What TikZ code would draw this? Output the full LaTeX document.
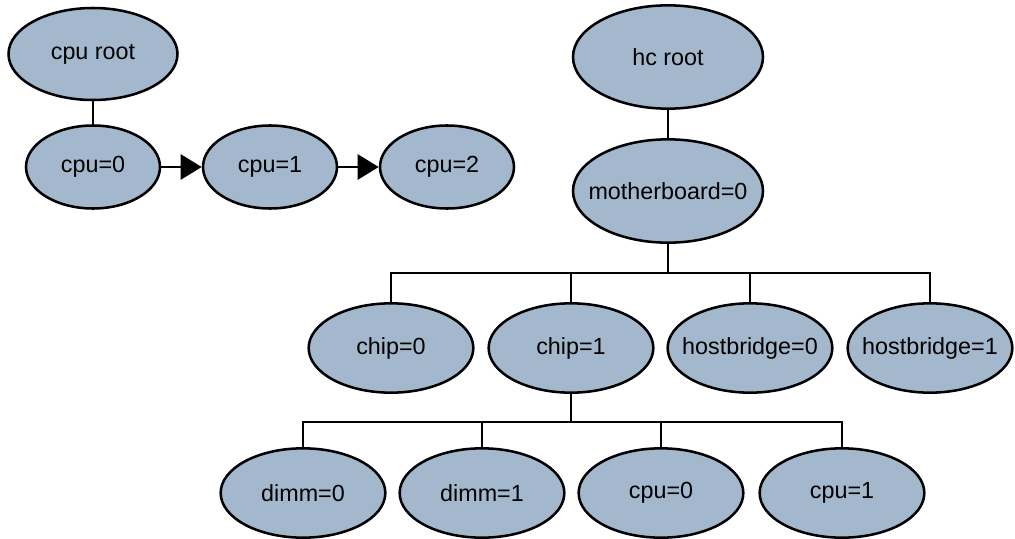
\documentclass[tikz,border=0pt]{standalone}
\usepackage{fontspec}
\setmainfont{Liberation Sans}
\usetikzlibrary{shapes.geometric, arrows.meta}
\definecolor{devblue}{HTML}{A3B8CC}
\tikzset{dev/.style={ellipse,draw,fill=devblue,line width=1.9pt,inner xsep=-30pt,inner ysep=0pt,
                     font=\fontsize{17.5}{20}\selectfont},
         small/.style={dev,minimum width=100.5pt,minimum height=62.25pt},
         big/.style={dev,minimum width=142.5pt,minimum height=77.5pt},
         mid/.style={dev,minimum width=123.5pt,minimum height=67pt},
         wire/.style={line width=1.9pt},
         next/.style={wire,-{Triangle[length=15.75pt,width=18.75pt]}},
        }

\begin{document}
\begin{tikzpicture}[x=0.75pt,y=-0.75pt]
        \useasboundingbox (0,0) rectangle (1015,539);

        \node[dev,minimum width=126.75pt,minimum height=69pt](cpuroot)at(93,54){cpu root};
        \node[small](cpu0)at(93,167){cpu=0};
        \node[small](cpu1)at(270,167){cpu=1};
        \node[small](cpu2)at(447,167){cpu=2};

        \node[big](hcroot)at(668,57){hc root};
        \node[big](mb)at(668,191){motherboard=0};

        \node[mid](chip0)at(391,348){chip=0};
        \node[mid](chip1)at(571,348){chip=1};
        \node[mid](hb0)at(750,348){hostbridge=0};
        \node[mid](hb1)at(930,348){hostbridge=1};

        \node[mid](dimm0)at(303,493){dimm=0};
        \node[mid](dimm1)at(482,493){dimm=1};
        \node[mid](ccpu0)at(661,493){cpu=0};
        \node[mid](ccpu1)at(842,493){cpu=1};

        \coordinate(busA)at(0,273);
        \coordinate(busB)at(0,422);

        \draw[wire](cpuroot.south)--(cpu0.north);
        \draw[next](cpu0.east)--(cpu1.west);
        \draw[next](cpu1.east)--(cpu2.west);

        \draw[wire](hcroot.south)--(mb.north);
        \draw[wire](mb.south)--(mb.south|-busA);
        \draw[wire](chip0.north)|-(hb1.north|-busA)--(hb1.north);
        \draw[wire](chip1.north)--(chip1.north|-busA);
        \draw[wire](hb0.north)--(hb0.north|-busA);

        \draw[wire](chip1.south)--(chip1.south|-busB);
        \draw[wire](dimm0.north)|-(ccpu1.north|-busB)--(ccpu1.north);
        \draw[wire](dimm1.north)--(dimm1.north|-busB);
        \draw[wire](ccpu0.north)--(ccpu0.north|-busB);
    \end{tikzpicture}
\end{document}
